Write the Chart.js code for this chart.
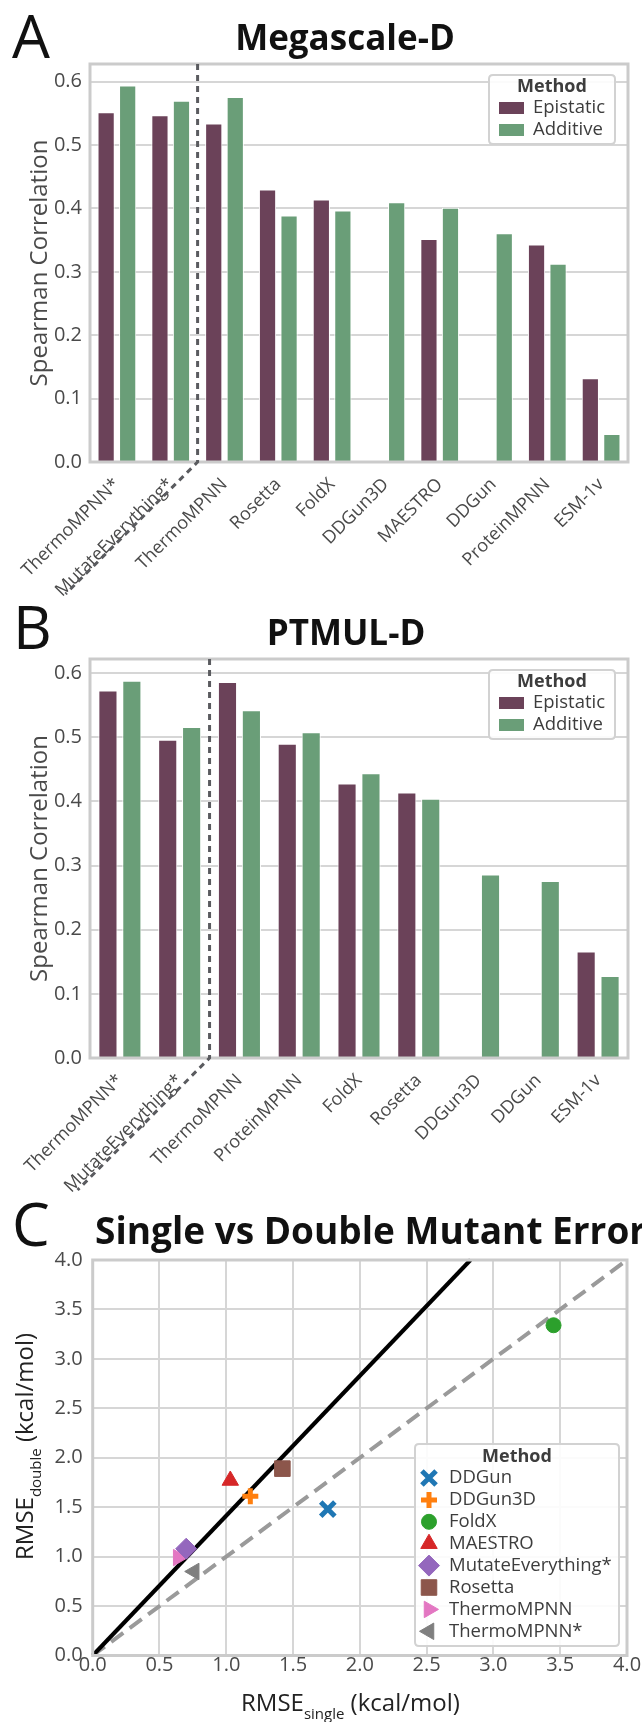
<!DOCTYPE html>
<html>
<head>
<meta charset="utf-8">
<script src="https://cdn.jsdelivr.net/npm/chart.js@4.4.1/dist/chart.umd.min.js"></script>
<style>
  body { margin: 0; background: #fff; width: 642px; height: 1722px; position: relative; overflow: hidden; font-family: 'Open Sans', sans-serif; }
  canvas { position: absolute; left: 0; }
  .lbl { position: absolute; line-height: 1; white-space: nowrap; color: #111; }
  .letter { font-size: 60px; font-weight: 400; }
  .ttl { font-weight: 700; text-align: center; }
</style>
</head>
<body>
<canvas id="chartA" width="642" height="620" style="top:0px"></canvas>
<canvas id="chartB" width="642" height="600" style="top:600px"></canvas>
<canvas id="chartC" width="642" height="522" style="top:1200px"></canvas>

<div class="lbl letter" style="left:12px;top:5px">A</div>
<div class="lbl ttl" style="left:145px;width:400px;top:19px;font-size:35px">Megascale-D</div>
<div class="lbl letter" style="left:13px;top:596px">B</div>
<div class="lbl ttl" style="left:146px;width:400px;top:614px;font-size:35px">PTMUL-D</div>
<div class="lbl letter" style="left:12px;top:1193px">C</div>
<div class="lbl" style="left:95px;top:1211px;font-size:37px;font-weight:700">Single vs Double Mutant Error</div>

<script>
// panel A - Megascale-D
const catsA = ['ThermoMPNN*', 'MutateEverything*', 'ThermoMPNN', 'Rosetta', 'FoldX', 'DDGun3D', 'MAESTRO', 'DDGun', 'ProteinMPNN', 'ESM-1v'];
const epiA = [0.552, 0.547, 0.534, 0.430, 0.414, null, 0.352, null, 0.343, 0.132];
const addA = [0.594, 0.570, 0.576, 0.389, 0.397, 0.410, 0.401, 0.361, 0.313, 0.044];

// panel B - PTMUL-D
const catsB = ['ThermoMPNN*', 'MutateEverything*', 'ThermoMPNN', 'ProteinMPNN', 'FoldX', 'Rosetta', 'DDGun3D', 'DDGun', 'ESM-1v'];
const epiB = [0.573, 0.496, 0.586, 0.490, 0.428, 0.414, null, null, 0.166];
const addB = [0.588, 0.516, 0.542, 0.508, 0.444, 0.404, 0.286, 0.276, 0.128];

const barTicks = [0.0, 0.1, 0.2, 0.3, 0.4, 0.5, 0.6];

// panel C - RMSE single vs double
const methods = ['DDGun', 'DDGun3D', 'FoldX', 'MAESTRO', 'MutateEverything*', 'Rosetta', 'ThermoMPNN', 'ThermoMPNN*'];
const rmseSingle = [1.76, 1.18, 3.45, 1.03, 0.70, 1.42, 0.64, 0.76];
const rmseDouble = [1.48, 1.61, 3.34, 1.77, 1.08, 1.89, 0.99, 0.85];
const unityLine = [[0, 0], [4, 4]];
const sqrt2Line = [[0, 0], [4 / Math.SQRT2, 4]];
const rmseTicks = [0, 0.5, 1.0, 1.5, 2.0, 2.5, 3.0, 3.5, 4.0];

const EPI = '#6b4259';
const ADD = '#6a9e78';
const GRID = '#d6d6d6';
const SPINE = '#cbcbcb';
const TXT = '#4a4a4a';

const markerLook = {
  'DDGun': { color: '#1f77b4', style: 'crossRot', r: 10, rot: 0, bw: 5 },
  'DDGun3D': { color: '#ff7f0e', style: 'cross', r: 8, rot: 0, bw: 5 },
  'FoldX': { color: '#2ca02c', style: 'circle', r: 7.5, rot: 0, bw: 1 },
  'MAESTRO': { color: '#d62728', style: 'triangle', r: 9.5, rot: 0, bw: 1 },
  'MutateEverything*': { color: '#9467bd', style: 'rectRot', r: 10.5, rot: 0, bw: 1 },
  'Rosetta': { color: '#8c564b', style: 'rect', r: 11, rot: 0, bw: 1 },
  'ThermoMPNN': { color: '#e377c2', style: 'triangle', r: 9.5, rot: 90, bw: 1 },
  'ThermoMPNN*': { color: '#7f7f7f', style: 'triangle', r: 9.5, rot: -90, bw: 1 }
};

Chart.defaults.font.family = "'Open Sans', sans-serif";

function roundRect(ctx, x, y, w, h, r) {
  ctx.beginPath();
  ctx.moveTo(x + r, y);
  ctx.lineTo(x + w - r, y); ctx.quadraticCurveTo(x + w, y, x + w, y + r);
  ctx.lineTo(x + w, y + h - r); ctx.quadraticCurveTo(x + w, y + h, x + w - r, y + h);
  ctx.lineTo(x + r, y + h); ctx.quadraticCurveTo(x, y + h, x, y + h - r);
  ctx.lineTo(x, y + r); ctx.quadraticCurveTo(x, y, x + r, y);
  ctx.closePath();
}

// spines, dotted separator and the little legend box
const barDecor = {
  id: 'barDecor',
  afterDatasetsDraw(chart) {
    const { ctx, chartArea: ca, scales: { x } } = chart;
    const sx = (x.getPixelForTick(1) + x.getPixelForTick(2)) / 2;
    ctx.save();
    ctx.strokeStyle = SPINE; ctx.lineWidth = 3;
    ctx.strokeRect(ca.left, ca.top, ca.right - ca.left, ca.bottom - ca.top);
    ctx.strokeStyle = '#5a5b5f'; ctx.lineWidth = 3; ctx.setLineDash([6, 5]);
    ctx.beginPath();
    ctx.moveTo(sx, ca.top);
    ctx.lineTo(sx, ca.bottom);
    ctx.lineTo(sx - 132, ca.bottom + 132);
    ctx.stroke();
    ctx.restore();
  },
  afterDraw(chart) {
    const { ctx, chartArea: ca } = chart;
    const w = 126, h = 69;
    const bx = ca.right - 13 - w, by = ca.top + 11;
    ctx.save();
    roundRect(ctx, bx, by, w, h, 4);
    ctx.fillStyle = 'rgba(255,255,255,0.9)'; ctx.fill();
    ctx.strokeStyle = '#d2d2d2'; ctx.lineWidth = 2; ctx.stroke();
    ctx.fillStyle = '#3d3d3d';
    ctx.font = "bold 18px 'Open Sans'";
    ctx.textAlign = 'center'; ctx.textBaseline = 'middle';
    ctx.fillText('Method', bx + w / 2, by + 12);
    ctx.textAlign = 'left';
    ctx.font = "18.5px 'Open Sans'";
    chart.data.datasets.forEach((ds, i) => {
      const yy = by + 33 + i * 22;
      ctx.fillStyle = ds.backgroundColor;
      ctx.fillRect(bx + 10, yy - 6, 25, 12);
      ctx.fillStyle = '#3d3d3d';
      ctx.fillText(ds.label, bx + 44, yy);
    });
    ctx.restore();
  }
};

function barPanel(id, cats, epi, add, yMax, padTop, xHeight) {
  const ds = (label, data, color) => ({
    label, data, backgroundColor: color, borderColor: '#ffffff', borderWidth: 1,
    categoryPercentage: 0.8, barPercentage: 0.8
  });
  return new Chart(document.getElementById(id), {
    type: 'bar',
    data: { labels: cats, datasets: [ds('Epistatic', epi, EPI), ds('Additive', add, ADD)] },
    options: {
      responsive: false, animation: false, devicePixelRatio: 1,
      layout: { padding: { left: 0, right: 14, top: padTop, bottom: 0 } },
      plugins: { legend: { display: false }, tooltip: { enabled: false } },
      scales: {
        x: {
          grid: { display: false }, border: { display: false },
          ticks: { autoSkip: false, maxRotation: 45, minRotation: 45, padding: 4, color: TXT, font: { size: 18 } },
          afterFit: s => { s.height = xHeight; }
        },
        y: {
          min: 0, max: yMax,
          grid: { color: GRID, lineWidth: 2, drawTicks: false }, border: { display: false },
          ticks: { padding: 8, color: TXT, font: { size: 20 }, callback: v => v.toFixed(1) },
          afterBuildTicks: s => { s.ticks = barTicks.map(v => ({ value: v })); },
          afterFit: s => { s.width = 90; },
          title: { display: true, text: 'Spearman Correlation', color: TXT, font: { size: 24 }, padding: { top: 26, bottom: 0 } }
        }
      }
    },
    plugins: [barDecor]
  });
}

barPanel('chartA', catsA, epiA, addA, 0.628, 64, 158);
barPanel('chartB', catsB, epiB, addB, 0.622, 59, 142);

// panel C
function drawParts(ctx, parts) {
  let cx = 0;
  parts.forEach(p => {
    ctx.font = p.size + "px 'Open Sans'";
    ctx.fillText(p.t, cx, p.dy);
    cx += ctx.measureText(p.t).width;
  });
}

const scatterDecor = {
  id: 'scatterDecor',
  afterDraw(chart) {
    const { ctx, chartArea: ca } = chart;
    ctx.save();
    ctx.strokeStyle = SPINE; ctx.lineWidth = 3;
    ctx.strokeRect(ca.left, ca.top, ca.right - ca.left, ca.bottom - ca.top);

    // legend
    const w = 204, h = 202;
    const bx = ca.right - 8 - w, by = ca.bottom - 9.5 - h;
    roundRect(ctx, bx, by, w, h, 4);
    ctx.fillStyle = 'rgba(255,255,255,0.9)'; ctx.fill();
    ctx.strokeStyle = '#d2d2d2'; ctx.lineWidth = 2; ctx.stroke();
    ctx.fillStyle = '#3d3d3d';
    ctx.font = "bold 18px 'Open Sans'";
    ctx.textAlign = 'center'; ctx.textBaseline = 'middle';
    ctx.fillText('Method', bx + w / 2, by + 13);
    ctx.textAlign = 'left';
    methods.forEach((m, i) => {
      const lk = markerLook[m];
      const yy = by + 34 + i * 21.9;
      ctx.fillStyle = lk.color; ctx.strokeStyle = lk.color; ctx.lineWidth = lk.bw;
      Chart.helpers.drawPoint(ctx, { pointStyle: lk.style, radius: lk.r, rotation: lk.rot, borderWidth: lk.bw }, bx + 14, yy);
      ctx.fillStyle = '#3d3d3d';
      ctx.font = "18.5px 'Open Sans'";
      ctx.fillText(m, bx + 34, yy);
    });

    // axis titles with subscripts
    ctx.fillStyle = '#222';
    ctx.textAlign = 'left'; ctx.textBaseline = 'alphabetic';
    ctx.save();
    ctx.translate(241, 511);
    drawParts(ctx, [{ t: 'RMSE', size: 24, dy: 0 }, { t: 'single', size: 15, dy: 8 }, { t: ' (kcal/mol)', size: 24, dy: 0 }]);
    ctx.restore();
    ctx.save();
    ctx.translate(33, 360);
    ctx.rotate(-Math.PI / 2);
    drawParts(ctx, [{ t: 'RMSE', size: 24, dy: 0 }, { t: 'double', size: 15, dy: 8 }, { t: ' (kcal/mol)', size: 24, dy: 0 }]);
    ctx.restore();
    ctx.restore();
  }
};

const pointSets = methods.map((m, i) => {
  const lk = markerLook[m];
  return {
    label: m, data: [{ x: rmseSingle[i], y: rmseDouble[i] }],
    pointStyle: lk.style, pointRadius: lk.r, rotation: lk.rot,
    backgroundColor: lk.color, borderColor: lk.color, pointBorderWidth: lk.bw, order: i
  };
});
const lineSet = (pts, color, dash, order) => ({
  label: '', data: pts.map(p => ({ x: p[0], y: p[1] })), showLine: true, pointRadius: 0,
  borderColor: color, borderWidth: 4, borderDash: dash, order, clip: 2
});

new Chart(document.getElementById('chartC'), {
  type: 'scatter',
  data: { datasets: [...pointSets, lineSet(sqrt2Line, '#000000', [], 20), lineSet(unityLine, '#9a9a9a', [15, 8], 21)] },
  options: {
    responsive: false, animation: false, devicePixelRatio: 1,
    layout: { padding: { left: 0, right: 14, top: 60, bottom: 0 } },
    plugins: { legend: { display: false }, tooltip: { enabled: false } },
    scales: {
      x: {
        type: 'linear', min: 0, max: 4,
        grid: { color: GRID, lineWidth: 2, drawTicks: false }, border: { display: false },
        ticks: { padding: -2, color: TXT, font: { size: 20 }, callback: v => v.toFixed(1) },
        afterBuildTicks: s => { s.ticks = rmseTicks.map(v => ({ value: v })); },
        afterFit: s => { s.height = 66.5; }
      },
      y: {
        type: 'linear', min: 0, max: 4,
        grid: { color: GRID, lineWidth: 2, drawTicks: false }, border: { display: false },
        ticks: { padding: 10, color: TXT, font: { size: 20 }, callback: v => v.toFixed(1) },
        afterBuildTicks: s => { s.ticks = rmseTicks.map(v => ({ value: v })); },
        afterFit: s => { s.width = 92.7; }
      }
    }
  },
  plugins: [scatterDecor]
});
</script>
</body>
</html>
